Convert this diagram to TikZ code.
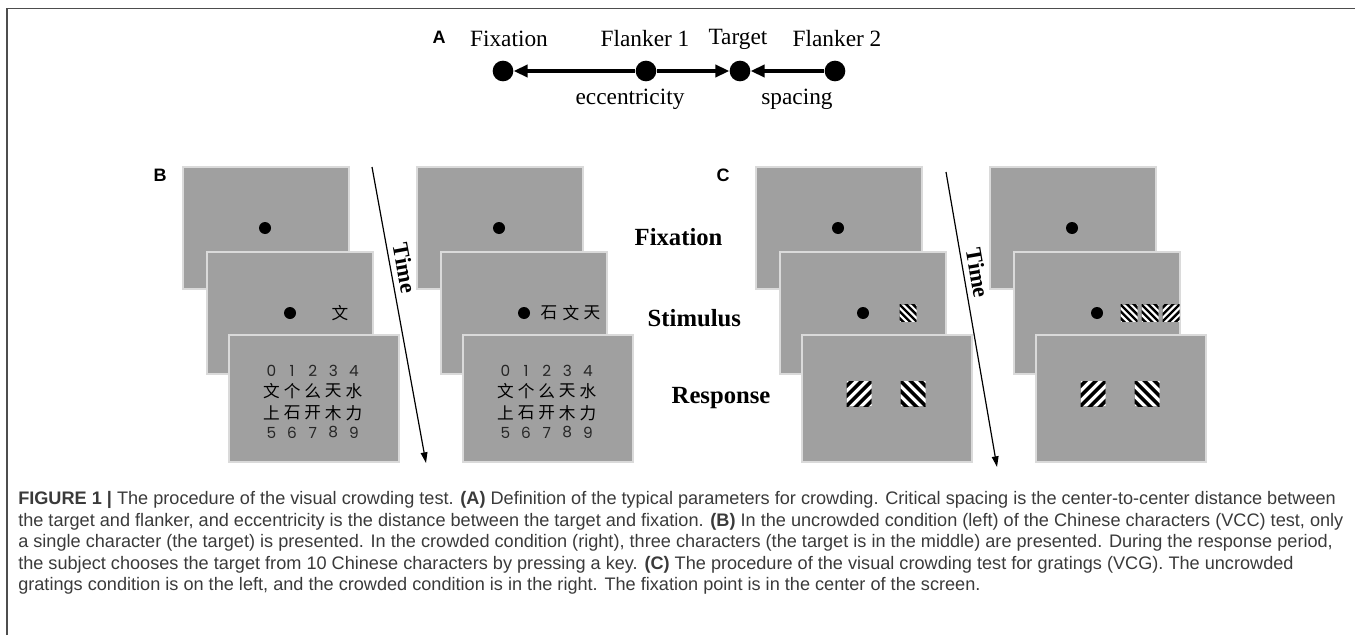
\documentclass[tikz,border=0pt]{standalone}
\usepackage{fontspec}
\setmainfont{Liberation Serif}
\setsansfont{Liberation Sans}
\newfontfamily\cjkfont{Noto Sans CJK SC}
\newfontfamily\digitfont{Poppins}
\usetikzlibrary{arrows.meta}
\definecolor{scrgray}{HTML}{A0A0A0}
\definecolor{scredge}{HTML}{DADADA}
\definecolor{captext}{HTML}{3A3A3A}
\definecolor{framegray}{HTML}{4D4D4D}
\newcommand\grating[4]{%
  \begin{scope}
    \clip (#1-#3/2,#2-#3/2) rectangle (#1+#3/2,#2+#3/2);
    \fill[white] (#1-#3/2,#2-#3/2) rectangle (#1+#3/2,#2+#3/2);
    \foreach \k in {-3,...,3}
      \draw[line width=#3*0.106pt] (#1+\k*#3*0.4-#3,#2-#4*#3) -- (#1+\k*#3*0.4+#3,#2+#4*#3);
  \end{scope}}
\tikzset{
  screen/.style={fill=scrgray,draw=scredge,line width=0.9pt},
  panel/.style={font=\sffamily\bfseries\fontsize{13.5}{16}\selectfont},
  adot/.style={circle,fill=black,inner sep=0pt,minimum size=15.5pt},
  aarrow/.style={line width=3pt,-{Triangle[length=10.5pt,width=9pt]}},
  alabel/.style={font=\fontsize{17.5}{20}\selectfont},
  phase/.style={anchor=west,font=\bfseries\fontsize{18.5}{22}\selectfont},
  timearrow/.style={line width=0.9pt,-{Triangle[length=8pt,width=5pt]}},
  timelabel/.style={sloped,above,pos=0.35,inner sep=4pt,font=\bfseries\fontsize{17}{20}\selectfont},
  digit/.style={font=\digitfont\fontsize{11.5}{13}\selectfont,text=black!85},
  hanzi/.style={font=\cjkfont\fontsize{12.5}{14}\selectfont},
  capline/.style={anchor=west,inner sep=0pt,text=captext,font=\sffamily\fontsize{13.6}{16}\selectfont}
}
\begin{document}
\begin{tikzpicture}[x=0.75pt,y=-0.75pt]
\useasboundingbox (0,0) rectangle (1355,635);
\draw[framegray,line width=1.3pt] (7,635) -- (7,8.5) -- (1355,8.5);

\node[panel] (pa) at (439,37) {A};
\node[adot] (fix) at (503,71) {};
\node[adot] (fl1) at (646,71) {};
\node[adot] (tgt) at (740,71) {};
\node[adot] (fl2) at (835,71) {};
\draw[aarrow] (fl1) -- (fix);
\draw[aarrow] (fl1) -- (tgt);
\draw[aarrow] (fl2) -- (tgt);
\node[alabel] (lfix) at (509,39) {Fixation};
\node[alabel] (lfl1) at (645,39) {Flanker 1};
\node[alabel] (ltgt) at (738,39) {Target};
\node[alabel] (lfl2) at (837,39) {Flanker 2};
\node[alabel] (lecc) at (630,99) {eccentricity};
\node[alabel] (lspc) at (797,99) {spacing};

\node[panel] (pb) at (160,175) {B};
\node[panel] (pc) at (723,175) {C};
\foreach \x in {183,417,756,990} {
  \draw[screen] (\x,167) rectangle ++(166,122);
  \fill (\x+82,228) circle (6);
  \draw[screen] (\x+24,252) rectangle ++(166,122);
  \fill (\x+107,313) circle (6);
  \draw[screen] (\x+46,335) rectangle ++(170,127);
}

\node[hanzi] (b1t) at (340,313) {文};
\node[hanzi] (b2l) at (549,313) {石};
\node[hanzi] (b2t) at (571,313) {文};
\node[hanzi] (b2r) at (592,313) {天};
\foreach \x in {183,417} {
  \foreach \d [count=\i from 0] in {0,1,2,3,4}
    \node[digit] at (\x+88.5+20.6*\i,371) {\d};
  \foreach \c [count=\i from 0] in {文,个,么,天,水}
    \node[hanzi] at (\x+88.5+20.6*\i,391) {\c};
  \foreach \c [count=\i from 0] in {上,石,开,木,力}
    \node[hanzi] at (\x+88.5+20.6*\i,413) {\c};
  \foreach \d [count=\i from 5] in {5,6,7,8,9}
    \node[digit] at (\x+88.5+20.6*\i-103,432.5) {\d};
}

\grating{908}{313}{17}{1}
\grating{1129}{313}{17}{1}
\grating{1150}{313}{17}{1}
\grating{1171}{313}{17}{-1}
\foreach \x in {756,990} {
  \grating{\x+103}{393.5}{25}{-1}
  \grating{\x+157}{393.5}{25}{1}
}

\node[phase] (lfx) at (630,237) {Fixation};
\node[phase] (lst) at (643,318) {Stimulus};
\node[phase] (lrs) at (667,398) {Response};

\coordinate (tb0) at (372,167);
\coordinate (tb1) at (426,463);
\draw[timearrow] (tb0) -- node[timelabel] {Time} (tb1);
\coordinate (tc0) at (946,172);
\coordinate (tc1) at (997,467);
\draw[timearrow] (tc0) -- node[timelabel] {Time} (tc1);

\node[capline] (cap1) at (18,500) {\textbf{FIGURE 1 |} The procedure of the visual crowding test. \textbf{(A)} Definition of the typical parameters for crowding. Critical spacing is the center-to-center distance between};
\node[capline] (cap2) at (18,521.5) {the target and flanker, and eccentricity is the distance between the target and fixation. \textbf{(B)} In the uncrowded condition (left) of the Chinese characters (VCC) test, only};
\node[capline] (cap3) at (18,543) {a single character (the target) is presented. In the crowded condition (right), three characters (the target is in the middle) are presented. During the response period,};
\node[capline] (cap4) at (18,564.5) {the subject chooses the target from 10 Chinese characters by pressing a key. \textbf{(C)} The procedure of the visual crowding test for gratings (VCG). The uncrowded};
\node[capline] (cap5) at (18,586) {gratings condition is on the left, and the crowded condition is in the right. The fixation point is in the center of the screen.};
\end{tikzpicture}
\end{document}
